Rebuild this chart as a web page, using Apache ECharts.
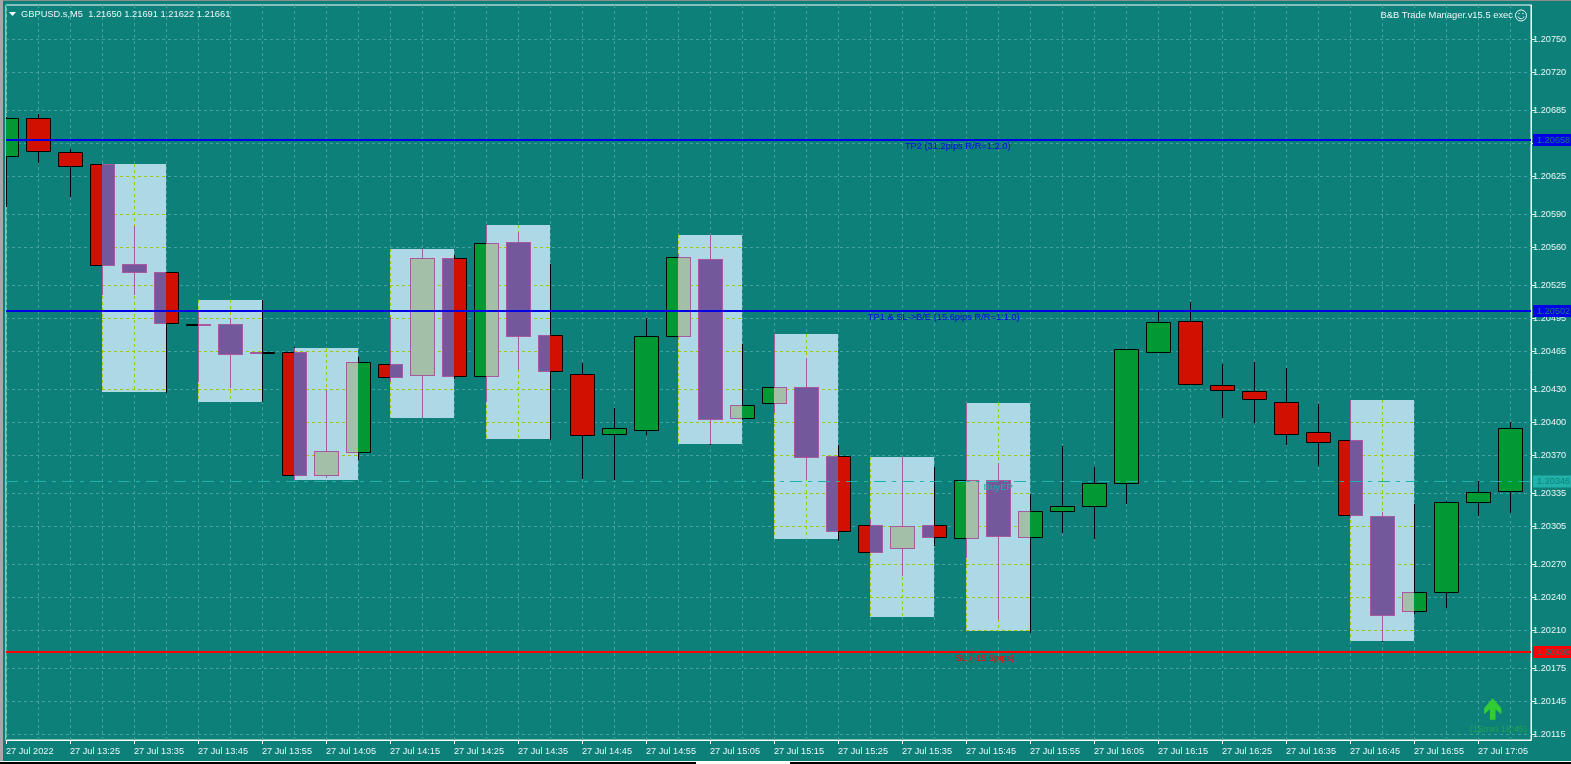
<!DOCTYPE html>
<html><head><meta charset="utf-8">
<style>html,body{margin:0;padding:0;background:#0e807a;overflow:hidden}#c{width:1571px;height:764px}</style>
<script src="https://cdn.jsdelivr.net/npm/echarts@6/dist/echarts.min.js"></script>
</head><body><div id="c"></div>
<script>
const timeLabels = {0:'27 Jul 2022',2:'27 Jul 13:25',4:'27 Jul 13:35',6:'27 Jul 13:45',8:'27 Jul 13:55',10:'27 Jul 14:05',12:'27 Jul 14:15',14:'27 Jul 14:25',16:'27 Jul 14:35',18:'27 Jul 14:45',20:'27 Jul 14:55',22:'27 Jul 15:05',24:'27 Jul 15:15',26:'27 Jul 15:25',28:'27 Jul 15:35',30:'27 Jul 15:45',32:'27 Jul 15:55',34:'27 Jul 16:05',36:'27 Jul 16:15',38:'27 Jul 16:25',40:'27 Jul 16:35',42:'27 Jul 16:45',44:'27 Jul 16:55',46:'27 Jul 17:05'};
const priceTicks = [1.20750,1.20720,1.20685,1.20655,1.20625,1.20590,1.20560,1.20525,1.20495,1.20465,1.20430,1.20400,1.20370,1.20335,1.20305,1.20270,1.20240,1.20210,1.20175,1.20145,1.20115];

const opens  = [1.20643,1.20678,1.20647,1.20636,1.20545,1.20537,1.20490,1.20490,1.20464,1.20464,1.20352,1.20373,1.20453,1.20443,1.20550,1.20442,1.20565,1.20480,1.20444,1.20389,1.20393,1.20479,1.20549,1.20404,1.20418,1.20432,1.20369,1.20306,1.20285,1.20306,1.20294,1.20347,1.20295,1.20319,1.20324,1.20345,1.20464,1.20493,1.20434,1.20429,1.20419,1.20391,1.20384,1.20314,1.20228,1.20245,1.20327,1.20337];
const closes = [1.20678,1.20648,1.20634,1.20544,1.20537,1.20491,1.20490,1.20462,1.20464,1.20352,1.20374,1.20455,1.20441,1.20550,1.20442,1.20564,1.20479,1.20447,1.20388,1.20395,1.20479,1.20551,1.20403,1.20416,1.20432,1.20368,1.20301,1.20282,1.20305,1.20295,1.20347,1.20296,1.20319,1.20324,1.20345,1.20467,1.20492,1.20435,1.20430,1.20421,1.20389,1.20382,1.20315,1.20224,1.20245,1.20327,1.20336,1.20395];
const lows   = [1.20597,1.20637,1.20606,1.20516,1.20516,1.20427,1.20437,1.20431,1.20419,1.20347,1.20349,1.20366,1.20437,1.20404,1.20440,1.20419,1.20448,1.20384,1.20348,1.20347,1.20388,1.20477,1.20379,1.20402,1.20409,1.20347,1.20292,1.20282,1.20260,1.20287,1.20276,1.20219,1.20208,1.20299,1.20293,1.20325,1.20464,1.20435,1.20404,1.20399,1.20379,1.20360,1.20313,1.20199,1.20225,1.20230,1.20314,1.20317];
const highs  = [1.20679,1.20682,1.20650,1.20636,1.20579,1.20537,1.20501,1.20495,1.20512,1.20469,1.20430,1.20460,1.20496,1.20558,1.20553,1.20580,1.20574,1.20545,1.20454,1.20413,1.20495,1.20554,1.20571,1.20472,1.20481,1.20459,1.20379,1.20312,1.20368,1.20359,1.20418,1.20363,1.20335,1.20378,1.20359,1.20467,1.20503,1.20510,1.20453,1.20455,1.20450,1.20417,1.20420,1.20318,1.20325,1.20328,1.20346,1.20400];

const zoneStart = [3,6,9,12,15,21,24,27,30,42];
const zoneEnd   = [5,8,11,14,17,23,26,29,32,44];
const zoneLow   = [1.20428,1.20419,1.20347,1.20404,1.20385,1.20380,1.20293,1.20222,1.20209,1.20200];
const zoneHigh  = [1.20636,1.20512,1.20468,1.20558,1.20580,1.20571,1.20481,1.20368,1.20418,1.20420];

const levelPrices = [1.20658,1.20502,1.20190];
const levelNames  = ['TP2 (31.2pips R/R=1:2.0)','TP1 & SL->B/E (15.6pips R/R=1:1.0)','SL (-15.6pips)'];
const levelNameAt = [28.09,26.93,29.68];
const levelColors = ['#0000e6','#0000e6','#ff0000'];
const entryPrice = 1.20346, entryName = 'BuyEP', entryNameAt = 30.55;
const signalAt = [46.46, 1.20148], signalText = '(15min 16:45)';

const BG='#0e807a', GRID='#459f9a', UP='#009933', DOWN='#d11000', INV_DOWN='#73589c', INV_UP='#a3bfa8', INV_EDGE='#a85a9e', LIME='#a6c800', ZONE='#add8e6', ENTRY='#20b2aa';
const xMax = 1525/32;
const pix = v => Math.floor(v)+0.5;

function zonePx(api,i){
  const a=api.coord([zoneStart[i],zoneHigh[i]]), b=api.coord([zoneEnd[i],zoneLow[i]]);
  return {l:Math.round(a[0]),r:Math.round(b[0]),t:Math.round(a[1]),b:Math.round(b[1])};
}
function seg(x1,y1,x2,y2,stroke,dash){
  const s={stroke,lineWidth:1,fill:null}; if(dash) s.lineDash=dash;
  return {type:'line',shape:{x1,y1,x2,y2},style:s};
}
function renderZone(params,api){
  const i=api.value(0), z=zonePx(api,i);
  const ch=[{type:'rect',shape:{x:z.l,y:z.t,width:z.r-z.l,height:z.b-z.t},style:{fill:ZONE}}];
  priceTicks.forEach(p=>{
    const y=api.coord([0,p])[1];
    if(y>z.t&&y<z.b) ch.push(seg(z.l,pix(y),z.r,pix(y),LIME,[3,3]));
  });
  for(let k=zoneStart[i];k<zoneEnd[i];k++){
    const x=pix(api.coord([k,0])[0]);
    ch.push(seg(x,z.t,x,z.b,LIME,[3,3]));
  }
  return {type:'group',children:ch};
}
function renderCandle(params,api){
  const idx=api.value(0),o=api.value(1),c=api.value(2),lo=api.value(3),hi=api.value(4);
  const cx=pix(api.coord([idx,o])[0]);
  const yo=Math.round(api.coord([idx,o])[1]),yc=Math.round(api.coord([idx,c])[1]);
  const yl=Math.round(api.coord([idx,lo])[1]),yh=Math.round(api.coord([idx,hi])[1]);
  const top=Math.min(yo,yc),bot=Math.max(top+1,Math.max(yo,yc));
  const up=c>=o, half=12;
  const L=Math.floor(cx)-half,R=Math.floor(cx)+half;
  const ch=[];
  ch.push(seg(cx,yh,cx,yl,'#000'));
  const zones=zoneStart.map((_,i)=>zonePx(api,i)).filter(z=>L<z.r&&R>z.l);
  zones.forEach(z=>{
    if(cx>z.l&&cx<z.r){
      const a=Math.max(yh,z.t),b=Math.min(yl,z.b);
      if(b>a) ch.push(seg(cx,a,cx,b,INV_EDGE));
    }
  });
  ch.push({type:'rect',shape:{x:L+.5,y:top+.5,width:R-L,height:bot-top},style:{fill:up?UP:DOWN,stroke:'#000',lineWidth:1}});
  zones.forEach(z=>{
    const x0=Math.max(L,z.l),x1=Math.min(R+1,z.r),y0=Math.max(top,z.t),y1=Math.min(bot+1,z.b);
    if(x1<=x0||y1<=y0) return;
    ch.push({type:'rect',shape:{x:x0,y:y0,width:x1-x0,height:y1-y0},style:{fill:up?INV_UP:INV_DOWN}});
    ch.push(seg(x0,top+.5,x1,top+.5,INV_EDGE));
    ch.push(seg(x0,bot+.5,x1,bot+.5,INV_EDGE));
    if(L>=z.l) ch.push(seg(L+.5,top,L+.5,bot+1,INV_EDGE));
    if(R<z.r)  ch.push(seg(R+.5,top,R+.5,bot+1,INV_EDGE));
  });
  return {type:'group',children:ch};
}
function renderLevels(params,api){
  const i=api.value(0), y=Math.round(api.coord([0,levelPrices[i]])[1]);
  const a=api.coord([0,levelPrices[i]])[0], b=api.coord([xMax,levelPrices[i]])[0];
  return {type:'group',children:[
    {type:'line',shape:{x1:a,y1:y,x2:b,y2:y},style:{stroke:levelColors[i],lineWidth:2}},
    {type:'text',style:{text:levelNames[i],x:api.coord([levelNameAt[i],levelPrices[i]])[0],y:y+6.5,fill:levelColors[i],fontFamily:'Liberation Sans',fontSize:9.3,verticalAlign:'middle'}},
    {type:'rect',shape:{x:b+2,y:y-6,width:39,height:12},style:{fill:levelColors[i]}},
    {type:'text',style:{text:levelPrices[i].toFixed(5),x:b+6,y:y,fill:BG,fontFamily:'Liberation Sans',fontSize:9.2,verticalAlign:'middle'}}
  ]};
}
function renderEntry(params,api){
  const y=pix(api.coord([0,entryPrice])[1]);
  const a=api.coord([0,entryPrice])[0], b=api.coord([xMax,entryPrice])[0];
  return {type:'group',children:[
    {type:'line',shape:{x1:a,y1:y,x2:b,y2:y},style:{stroke:ENTRY,lineWidth:1,lineDash:[12,6,4,6]}},
    {type:'text',style:{text:entryName,x:api.coord([entryNameAt,entryPrice])[0],y:y+5.5,fill:ENTRY,fontFamily:'Liberation Sans',fontSize:9.6,verticalAlign:'middle'}},
    {type:'rect',shape:{x:b+2,y:y-6,width:39,height:12},style:{fill:ENTRY}},
    {type:'text',style:{text:entryPrice.toFixed(5),x:b+6,y:y,fill:BG,fontFamily:'Liberation Sans',fontSize:9.2,verticalAlign:'middle'}}
  ]};
}
function renderSignal(params,api){
  const p=api.coord([api.value(0),api.value(1)]), x=p[0], y=p[1];
  return {type:'group',children:[
    {type:'polygon',shape:{points:[[x,y],[x+8.6,y+10],[x+8.6,y+16],[x+2.8,y+11],[x+2.8,y+21.5],[x-2.8,y+21.5],[x-2.8,y+11],[x-8.6,y+16],[x-8.6,y+10]]},style:{fill:'#32cd32'}},
    {type:'text',style:{text:signalText,x:x-23,y:y+31,fill:'#1fa34a',fontFamily:'Liberation Sans',fontSize:9.3,verticalAlign:'middle'}}
  ]};
}
const chart=echarts.init(document.getElementById('c'),null,{renderer:'canvas'});
const textCol='#eaf6f6', font='Liberation Sans';
chart.setOption({
  animation:false,
  backgroundColor:BG,
  title:{text:'GBPUSD.s,M5  1.21650 1.21691 1.21622 1.21661',left:21,top:10,padding:0,textStyle:{color:textCol,fontFamily:font,fontSize:9.3,fontWeight:'normal'}},
  grid:{left:6,right:40,top:5,height:735,show:true,backgroundColor:BG,borderColor:'#fff',borderWidth:1},
  xAxis:{type:'value',min:0,max:xMax,interval:2,
    axisLine:{show:true,onZero:false,lineStyle:{color:'#fff'}},
    axisTick:{show:true,length:4,inside:false,lineStyle:{color:'#fff'}},
    axisLabel:{align:'left',margin:7,color:textCol,fontFamily:font,fontSize:9.2,showMaxLabel:false,hideOverlap:false,
      formatter:v=>timeLabels[v]||''},
    splitLine:{show:true,lineStyle:{color:GRID,type:[3,3]}},
    minorTick:{show:false,splitNumber:2},
    minorSplitLine:{show:true,lineStyle:{color:GRID,type:[3,3]}}},
  yAxis:{type:'value',position:'right',min:1.201098,max:1.207813,
    axisLine:{show:true,onZero:false,lineStyle:{color:'#fff'}},
    axisTick:{show:true,length:4,customValues:priceTicks,lineStyle:{color:'#fff'}},
    axisLabel:{customValues:priceTicks,margin:2,color:textCol,fontFamily:font,fontSize:9.2,formatter:v=>v.toFixed(5),align:'left'},
    splitLine:{show:true,lineStyle:{color:GRID,type:[3,3]}}},
  series:[
    {type:'custom',name:'zones',coordinateSystem:'cartesian2d',clip:true,z:2,silent:true,renderItem:renderZone,data:zoneStart.map((_,i)=>[i]),encode:{x:[],y:[]}},
    {type:'custom',name:'candles',coordinateSystem:'cartesian2d',clip:true,z:3,silent:true,renderItem:renderCandle,
      data:opens.map((o,i)=>[i,o,closes[i],lows[i],highs[i]]),encode:{x:0,y:[1,2,3,4]}},
    {type:'custom',name:'entry',coordinateSystem:'cartesian2d',z:4,silent:true,renderItem:renderEntry,data:[[0]],encode:{x:[],y:[]}},
    {type:'custom',name:'levels',coordinateSystem:'cartesian2d',z:5,silent:true,renderItem:renderLevels,data:levelPrices.map((_,i)=>[i]),encode:{x:[],y:[]}},
    {type:'custom',name:'signal',coordinateSystem:'cartesian2d',z:5,silent:true,renderItem:renderSignal,data:[signalAt],encode:{x:0,y:1}}
  ],
  graphic:[
    {type:'rect',shape:{x:0,y:0,width:1571,height:1},style:{fill:'#8c8c8c'},z:10,silent:true},
    {type:'rect',shape:{x:0,y:0,width:3,height:764},style:{fill:'#a8a8a8'},z:10,silent:true},
    {type:'rect',shape:{x:0,y:761,width:1571,height:1},style:{fill:'#fff'},z:10,silent:true},
    {type:'rect',shape:{x:0,y:762,width:696,height:2},style:{fill:'#000'},z:10,silent:true},
    {type:'rect',shape:{x:696,y:762,width:94,height:2},style:{fill:'#fff'},z:10,silent:true},
    {type:'rect',shape:{x:790,y:762,width:781,height:2},style:{fill:'#000'},z:10,silent:true},
    {type:'polygon',shape:{points:[[9,12],[16,12],[12.5,16]]},style:{fill:'#fff'},z:10,silent:true},
    {type:'text',x:1513,y:15,style:{text:'B&B Trade Manager.v15.5 exec',align:'right',verticalAlign:'middle',fill:textCol,fontFamily:font,fontSize:9.4},z:10,silent:true},
    {type:'circle',shape:{cx:1521,cy:15.5,r:5.5},style:{fill:'none',stroke:textCol,lineWidth:1},z:10,silent:true},
    {type:'circle',shape:{cx:1519,cy:13.5,r:0.7},style:{fill:textCol},z:10,silent:true},
    {type:'circle',shape:{cx:1523,cy:13.5,r:0.7},style:{fill:textCol},z:10,silent:true},
    {type:'arc',shape:{cx:1521,cy:15.5,r:3.2,startAngle:0.3,endAngle:Math.PI-0.3},style:{fill:'none',stroke:textCol,lineWidth:1},z:10,silent:true}
  ]
});
</script></body></html>
